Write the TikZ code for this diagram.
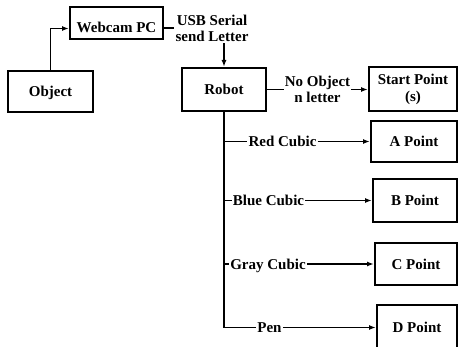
\documentclass[tikz,border=0pt]{standalone}
\usepackage{fontspec}
\setmainfont{Liberation Serif}
\usetikzlibrary{arrows.meta}
\begin{document}
\begin{tikzpicture}[x=1pt,y=-1pt,
  txt/.style={font=\bfseries\fontsize{15}{16.5}\selectfont},
  block/.style={txt, draw, line width=2pt, inner sep=0pt},
  oneline/.style={text height=10.2pt, text depth=0pt},
  lbl/.style={txt, oneline, inner sep=1pt},
  lbl2/.style={txt, inner sep=1pt, align=center},
  wire/.style={line width=1.7pt},
  arr/.style={wire, -{Latex[length=7pt,width=5pt]}}
]
\clip (0,0) rectangle (458,347);

% boxes
\node[block, oneline, minimum width=85pt, minimum height=41pt] (obj) at (50.5,91.5) {Object};
\node[block, text height=19pt, text depth=0pt, minimum width=93pt, minimum height=32pt] (web) at (116.5,23.5) {Webcam PC};
\node[block, oneline, minimum width=84pt, minimum height=43pt] (robot) at (224,89.5) {Robot};
\node[block, align=center, minimum width=88pt, minimum height=44pt] (start) at (413,89.5) {Start Point\\(s)};
\node[block, oneline, minimum width=86pt, minimum height=41pt] (A) at (414,141.5) {A Point};
\node[block, oneline, minimum width=84pt, minimum height=43pt] (B) at (415,200.5) {B Point};
\node[block, oneline, minimum width=82pt, minimum height=42pt] (C) at (416,264) {C Point};
\node[block, oneline, minimum width=80pt, minimum height=44pt] (D) at (417,327.5) {D Point};

% connector labels
\node[lbl2] (usb) at (212,28.3) {USB Serial\\send Letter};
\node[lbl2] (noobj) at (317.5,89.5) {No Object\\n letter};
\node[lbl] (red) at (282.5,141.5) {Red Cubic};
\node[lbl] (blue) at (268.5,200.5) {Blue Cubic};
\node[lbl] (gray) at (268,264) {Gray Cubic};
\node[lbl] (pen) at (269.5,327.5) {Pen};

% connectors
\draw[arr] (obj.north) |- ([yshift=-5pt]web.west);
\draw[wire] (web.east |- usb.west) -- (usb.west);
\draw[arr] (robot.north |- usb.south) -- (robot.north);
\draw[wire] (robot.east) -- (noobj.west);
\draw[arr] (noobj.east) -- (start.west);

\draw[wire] (robot.south) |- (pen.west);
\draw[wire] (robot.south |- red.west) -- (red.west);
\draw[wire] (robot.south |- blue.west) -- (blue.west);
\draw[wire] (robot.south |- gray.west) -- (gray.west);
\draw[arr] (red.east) -- (A.west);
\draw[arr] (blue.east) -- (B.west);
\draw[arr] (gray.east) -- (C.west);
\draw[arr] (pen.east) -- (D.west);
\end{tikzpicture}
\end{document}
